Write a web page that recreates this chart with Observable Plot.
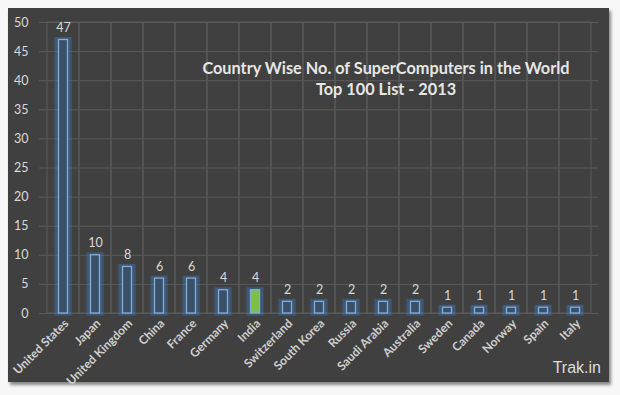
<!DOCTYPE html>
<html><head><meta charset="utf-8">
<script src="https://cdn.jsdelivr.net/npm/d3@7"></script>
<script src="https://cdn.jsdelivr.net/npm/@observablehq/plot@0.6"></script>
<style>
html,body{margin:0;padding:0;background:#fff;}
#wrap{position:relative;width:620px;height:395px;background:#f7f7f7;overflow:hidden;}
#panel{position:absolute;left:8px;top:8px;width:601px;height:374px;background:#404040;box-shadow:2px 3px 3px rgba(0,0,0,0.45);}
#chart{position:absolute;left:0;top:0;}
#title{position:absolute;left:136px;width:500px;top:57px;text-align:center;color:#e6e6e6;font:bold 16.3px Lato, sans-serif;line-height:21px;}
#brand{position:absolute;left:530px;width:71px;top:359px;text-align:right;color:#dcdcdc;font:16px "Liberation Sans", Arial, sans-serif;}
</style></head>
<body>
<div id="wrap">
  <div id="panel"></div>
  <div id="chart"></div>
  <div id="title">Country Wise No. of SuperComputers in the World<br>Top 100 List - 2013</div>
  <div id="brand">Trak.in</div>
</div>
<script>
const countries = ["United States","Japan","United Kingdom","China","France","Germany","India","Switzerland","South Korea","Russia","Saudi Arabia","Australia","Sweden","Canada","Norway","Spain","Italy"];
const counts = [47,10,8,6,6,4,4,2,2,2,2,2,1,1,1,1,1];
const highlight = "India";
const yTicks = [0,5,10,15,20,25,30,35,40,45,50];
const yMax = 50;

const data = countries.map((c,i)=>({country:c, count:counts[i]}));
const grid = "#5a5a5a";

const chart = Plot.plot({
  width:620, height:395,
  marginLeft:39, marginRight:22, marginTop:22, marginBottom:82,
  style:{background:"transparent", color:"#d9d9d9", fontFamily:"Lato, sans-serif", fontSize:"12px"},
  x:{domain:countries, padding:0, label:null},
  y:{domain:[0,yMax], ticks:yTicks, label:null},
  marks:[
    Plot.barY(countries, {x:d=>d, y1:0, y2:yMax, fill:"none", stroke:grid, strokeWidth:1}),
    Plot.ruleY(yTicks, {stroke:grid, strokeWidth:1}),
    Plot.barY(data, {x:"country", y:"count", insetLeft:10, insetRight:10, fill:"none", stroke:"#3d7fc8", strokeWidth:5, strokeOpacity:0.4}),
    Plot.barY(data, {x:"country", y:"count", insetLeft:11.5, insetRight:11.5, fill:d=>d.country===highlight?"#7cc142":"#3a5068", stroke:"#86acd9", strokeWidth:1.3}),
    Plot.text(data, {x:"country", y:"count", text:d=>String(d.count), dy:-12, fill:"#d9d9d9", fontSize:12.5}),
    Plot.axisX({tickRotate:-45, tickSize:0, tickPadding:8, dx:3, fontSize:12, fontWeight:"bold", fill:"#cfcfcf", label:null}),
    Plot.axisY({ticks:yTicks, tickSize:0, tickPadding:11, fontSize:12.5, fill:"#d9d9d9", label:null})
  ]
});
document.getElementById("chart").appendChild(chart);
</script>
</body></html>
